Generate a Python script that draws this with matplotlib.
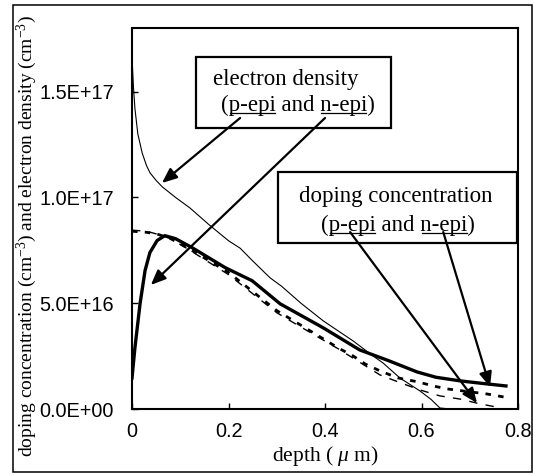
import matplotlib
matplotlib.use("Agg")
import matplotlib.pyplot as plt
from matplotlib.patches import Rectangle
from matplotlib.lines import Line2D
from matplotlib.ticker import FuncFormatter, FixedLocator

# ---------------- data (depth in um, concentration in cm^-3) ----------------
e_thin_x = [0.0, 0.003, 0.006, 0.012, 0.021, 0.03, 0.0375, 0.05, 0.0625, 0.09, 0.12,
            0.16, 0.2, 0.224, 0.25, 0.286, 0.31, 0.35, 0.396, 0.458, 0.5, 0.52,
            0.555, 0.597, 0.62, 0.638, 0.66, 0.68]
e_thin_y = [16.6e16, 15.2e16, 14.2e16, 13.0e16, 12.1e16, 11.5e16, 11.15e16, 10.8e16,
            10.5e16, 10.0e16, 9.5e16, 8.7e16, 7.95e16, 7.6e16, 7.0e16, 6.2e16, 5.8e16,
            5.0e16, 4.17e16, 3.22e16, 2.5e16, 2.18e16, 1.47e16, 0.85e16, 0.45e16,
            0.05e16, 0.0, 0.0]

thick_x = [0.0, 0.006, 0.0166, 0.027, 0.037, 0.052, 0.068, 0.09, 0.124, 0.193,
           0.249, 0.307, 0.396, 0.472, 0.53, 0.591, 0.63, 0.68, 0.73, 0.775]
thick_y = [1.47e16, 2.89e16, 4.97e16, 6.54e16, 7.39e16, 7.96e16, 8.19e16, 8.05e16,
           7.63e16, 6.68e16, 6.06e16, 4.97e16, 3.84e16, 2.79e16, 2.3e16, 1.75e16,
           1.5e16, 1.33e16, 1.2e16, 1.09e16]

dop_p_x = [0.0, 0.03, 0.054, 0.08, 0.12, 0.2, 0.3, 0.342, 0.427, 0.458, 0.483,
           0.514, 0.551, 0.593, 0.624, 0.653, 0.736, 0.775]
dop_p_y = [8.4e16, 8.35e16, 8.25e16, 8.05e16, 7.55e16, 6.45e16, 4.65e16, 4.07e16,
           2.89e16, 2.51e16, 2.13e16, 1.8e16, 1.47e16, 1.28e16, 1.09e16, 0.95e16,
           0.71e16, 0.55e16]

dop_n_x = [0.0, 0.03, 0.054, 0.08, 0.12, 0.2, 0.3, 0.342, 0.427, 0.483, 0.514,
           0.555, 0.597, 0.638, 0.68, 0.72, 0.765]
dop_n_y = [8.45e16, 8.4e16, 8.25e16, 8.05e16, 7.5e16, 6.35e16, 4.55e16, 3.98e16,
           2.85e16, 2.05e16, 1.61e16, 1.25e16, 0.9e16, 0.62e16, 0.47e16, 0.25e16,
           0.05e16]

yticks = [0.0, 5e16, 1e17, 1.5e17]
xticks = [0.0, 0.2, 0.4, 0.6, 0.8]

box_lines = [["electron density", "(p-epi and n-epi)"],
             ["doping concentration", "(p-epi and n-epi)"]]

# annotation arrows: (tail x, tail y) -> (head x, head y) in data units
arrows = [((0.224, 1.375e17), (0.062, 1.068e17)),
          ((0.400, 1.375e17), (0.039, 5.86e16)),
          ((0.452, 8.36e16), (0.715, 0.28e16)),
          ((0.645, 8.36e16), (0.742, 1.04e16))]

serif = ["Liberation Serif", "DejaVu Serif"]
sans = ["Liberation Sans", "DejaVu Sans"]

plt.rcParams["mathtext.fontset"] = "custom"
plt.rcParams["mathtext.it"] = "Liberation Serif:italic"
plt.rcParams["mathtext.rm"] = "Liberation Serif"

fig = plt.figure(figsize=(5.33, 4.75), dpi=100)
ax = fig.add_axes([0.2477, 0.1389, 0.7242, 0.8021])

ax.plot(e_thin_x, e_thin_y, color="black", lw=0.8, zorder=3)
ax.plot(dop_p_x, dop_p_y, color="black", lw=2.0, dashes=(2.0, 2.6), zorder=2)
ax.plot(dop_n_x, dop_n_y, color="black", lw=1.0, dashes=(6, 6), zorder=2)
ax.plot(thick_x, thick_y, color="black", lw=2.4, zorder=4,
        solid_joinstyle="round")

ax.set_xlim(0, 0.8)
ax.set_ylim(0, 1.8e17)
ax.xaxis.set_major_locator(FixedLocator(xticks))
ax.yaxis.set_major_locator(FixedLocator(yticks))
ax.xaxis.set_major_formatter(FuncFormatter(lambda v, p: "0" if v == 0 else f"{v:.1f}"))
ax.yaxis.set_major_formatter(FuncFormatter(lambda v, p: f"{v:.1E}"))
ax.tick_params(direction="in", length=4, width=1.0, labelsize=14.3, colors="black")
ax.tick_params(axis="y", pad=13)
ax.tick_params(axis="x", pad=9)
for lab in ax.get_xticklabels() + ax.get_yticklabels():
    lab.set_family(sans)
for s in ax.spines.values():
    s.set_linewidth(1.5)

ax.set_xlabel("depth ( $\\mu$ m)", family=serif, fontsize=15.5)
ax.set_ylabel("doping concentration (cm$^{-3}$) and electron density (cm$^{-3}$)",
              family=serif, fontsize=14)
ax.xaxis.set_label_coords(0.5, -0.092)
ax.xaxis.label.set_va("top")
ax.yaxis.set_label_coords(-0.272, 0.454)
ax.yaxis.label.set_va("center")

# boxes (axes fraction)
boxes = [(0.166, 0.738, 0.505, 0.186), (0.378, 0.436, 0.619, 0.186)]
for (x0, y0, w, h) in boxes:
    ax.add_patch(Rectangle((x0, y0), w, h, transform=ax.transAxes, fill=True,
                           facecolor="white", edgecolor="black", lw=1.6, zorder=5))

text_pos = [[(0.399, 0.866), (0.43, 0.797)],
            [(0.684, 0.558), (0.69, 0.482)]]
second_texts = []
for lines, pos in zip(box_lines, text_pos):
    ax.text(pos[0][0], pos[0][1], lines[0], transform=ax.transAxes, ha="center",
            va="center", family=serif, fontsize=16.5, zorder=6)
    t = ax.text(pos[1][0], pos[1][1], lines[1], transform=ax.transAxes, ha="center",
                va="center", family=serif, fontsize=16.5, zorder=6)
    second_texts.append(t)

for (tail, head) in arrows:
    ax.annotate("", xy=head, xytext=tail, xycoords="data", textcoords="data",
                arrowprops=dict(arrowstyle="-|>,head_length=0.9,head_width=0.38",
                                mutation_scale=10, lw=1.6, color="black",
                                shrinkA=0, shrinkB=0), zorder=7)

# underline "p-epi" and "n-epi"
fig.canvas.draw()
renderer = fig.canvas.get_renderer()
def width_of(s, like):
    tmp = ax.text(0, 0, s, family=serif, fontsize=like.get_fontsize())
    w = tmp.get_window_extent(renderer).width
    tmp.remove()
    return w
inv = ax.transAxes.inverted()
for t in second_texts:
    full = t.get_text()
    bb = t.get_window_extent(renderer)
    scale = bb.width / width_of(full, t)
    for word in ["p-epi", "n-epi"]:
        i = full.index(word)
        x_start = bb.x0 + width_of(full[:i], t) * scale
        x_end = bb.x0 + width_of(full[:i + len(word)], t) * scale
        yb = bb.y0 + 3.0
        (ax0, ay0) = inv.transform((x_start + 1, yb))
        (ax1, ay1) = inv.transform((x_end - 1, yb))
        ax.add_line(Line2D([ax0, ax1], [ay0, ay1], transform=ax.transAxes,
                           color="black", lw=0.9, zorder=6))

# outer frame
fig.patches.append(Rectangle((0.0244, 0.0063), 0.974, 0.983, transform=fig.transFigure,
                             fill=False, edgecolor="black", lw=1.1))

fig.savefig("out.png", dpi=100)
